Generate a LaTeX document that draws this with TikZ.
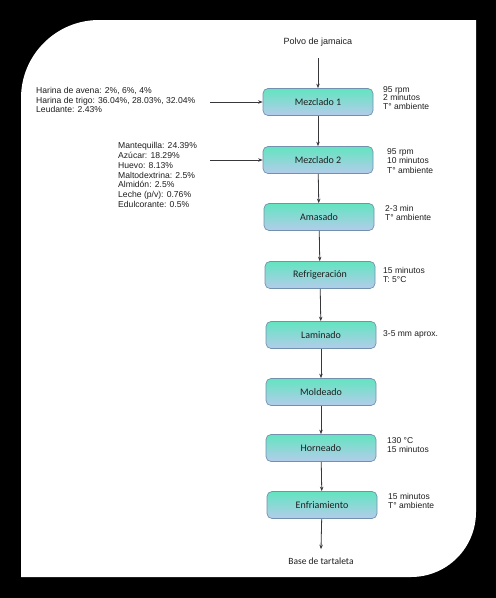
\documentclass[tikz,border=0pt]{standalone}
\usepackage{fontspec}
\setmainfont{Liberation Sans}
\newfontfamily\calfont{Carlito}
\usetikzlibrary{arrows.meta, positioning}
\definecolor{bgblk}  {RGB}{  0,  0,  0}
\definecolor{txtk}   {RGB}{ 30, 30, 30}
\definecolor{arrg}   {RGB}{ 55, 55, 60}
\definecolor{boxedg} {RGB}{115,145,175}
\definecolor{boxtop} {RGB}{ 98,228,192}
\definecolor{boxbot} {RGB}{180,204,234}
\tikzset{
  % Process step box
  PB/.style={rectangle,rounded corners=5pt,draw=boxedg,line width=0.7pt,
             top color=boxtop,bottom color=boxbot,
             minimum width=110pt,minimum height=27pt,inner sep=2pt,
             font=\calfont\fontsize{10}{12}\selectfont,text=txtk},
  % Side notes
  NT/.style={align=left,inner sep=0pt,text=txtk,
             font=\fontsize{8.5}{9.2}\selectfont},
  % Arrows
  Arr/.style={-{Stealth[length=4.5pt,width=3.5pt]},line width=0.8pt,color=arrg},
}
\begin{document}
\begin{tikzpicture}[x=1pt,y=-1pt]
  % frame
  \fill[bgblk] (0,0) rectangle (496,598);
  \fill[white] (21,577) -- (21,98) .. controls (21,55) and (56,20) .. (99,20)
               -- (476,20) -- (476,512) .. controls (476,548) and (447,577) .. (411,577)
               -- cycle;

  % main line
  \node[text=txtk,font=\fontsize{9}{11}\selectfont] at (318,42) (src) {Polvo de jamaica};
  \node[PB] at (318,102) (mz1) {Mezclado 1};
  \node[PB] at (318,160) (mz2) {Mezclado 2};
  \node[PB] at (319,217) (am)  {Amasado};
  \node[PB] at (320,275) (rf)  {Refrigeración};
  \node[PB] at (321,335) (lm)  {Laminado};
  \node[PB] at (321,392) (md)  {Moldeado};
  \node[PB] at (321,448) (hn)  {Horneado};
  \node[PB] at (322,505) (en)  {Enfriamiento};
  \node[text=txtk,font=\calfont\fontsize{9.5}{11}\selectfont] at (321,561) (out) {Base de tartaleta};

  \coordinate (s0) at (318,58);
  \draw[Arr] (s0) -- (mz1.north);
  \draw[Arr] (mz1) -- (mz2);
  \draw[Arr] (mz2) -- (am);
  \draw[Arr] (am) -- (rf);
  \draw[Arr] (rf) -- (lm);
  \draw[Arr] (lm) -- (md);
  \draw[Arr] (md) -- (hn);
  \draw[Arr] (hn) -- (en);
  \draw[Arr] (en) -- ([yshift=5pt]out.north);

  % ingredients
  \node[NT,anchor=west,font=\fontsize{8.6}{9.8}\selectfont] at (36,100) (in1)
        {Harina de avena: 2\%, 6\%, 4\%\\
         Harina de trigo: 36.04\%, 28.03\%, 32.04\%\\
         Leudante: 2.43\%};
  \node[NT,anchor=west,font=\fontsize{8.6}{9.7}\selectfont] at (118,175) (in2)
        {Mantequilla: 24.39\%\\Azúcar: 18.29\%\\Huevo: 8.13\%\\
         Maltodextrina: 2.5\%\\Almidón: 2.5\%\\Leche (p/v): 0.76\%\\
         Edulcorante: 0.5\%};
  \coordinate (a1) at (210,102);
  \coordinate (a2) at (210,160);
  \draw[Arr] (a1) -- (mz1.west);
  \draw[Arr] (a2) -- (mz2.west);

  % conditions
  \node[NT,anchor=west,font=\fontsize{8.5}{8.6}\selectfont] at (383,98) (c1)
        {95 rpm\\2 minutos\\T° ambiente};
  \node[NT,anchor=west] at (387,161) (c2) {95 rpm\\10 minutos\\T° ambiente};
  \node[NT,anchor=west] at (385,213) (c3) {2-3 min\\T° ambiente};
  \node[NT,anchor=west] at (383,275) (c4) {15 minutos\\T: 5°C};
  \node[NT,anchor=west] at (383,334) (c5) {3-5 mm aprox.};
  \node[NT,anchor=west] at (387,445) (c6) {130 °C\\15 minutos};
  \node[NT,anchor=west] at (388,501) (c7) {15 minutos\\T° ambiente};
\end{tikzpicture}
\end{document}
